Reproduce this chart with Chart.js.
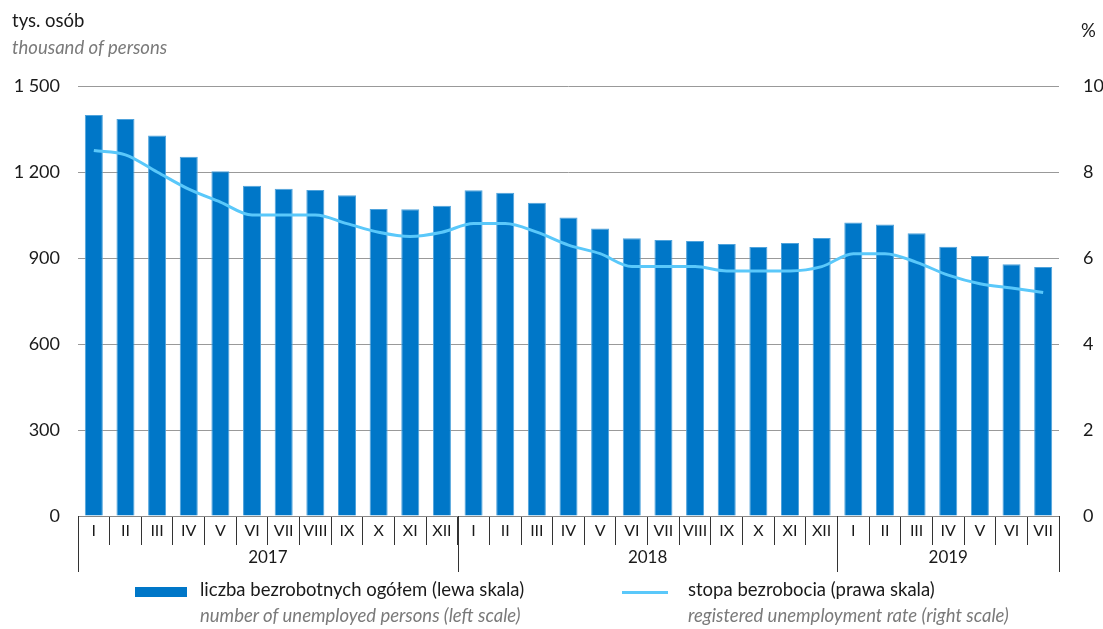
<!DOCTYPE html>
<html>
<head>
<meta charset="utf-8">
<script src="https://cdn.jsdelivr.net/npm/chart.js@4"></script>
<style>
  body { margin: 0; background: #fff; font-family: Lato, "Open Sans", sans-serif; }
  #wrap { position: relative; width: 1103px; height: 629px; }
  #c { position: absolute; left: 0; top: 0; }
  .txt { position: absolute; white-space: nowrap; font-size: 18.5px; color: #1a1a1a; }
  .en { font-style: italic; color: #7a7a7a; }
  .swatch { position: absolute; }
</style>
</head>
<body>
<div id="wrap">
  <canvas id="c" width="1103" height="629"></canvas>
  <div class="txt" style="left:12px; top:9px;">tys. osób</div>
  <div class="txt en" style="left:12px; top:36px;">thousand of persons</div>
  <div class="txt" style="left:1081px; top:19px;">%</div>

  <div class="swatch" style="left:135px; top:587px; width:52px; height:10px; background:#0077c8;"></div>
  <div class="txt" style="left:200px; top:578px;">liczba bezrobotnych ogółem (lewa skala)</div>
  <div class="txt en" style="left:200px; top:604px;">number of unemployed persons (left scale)</div>

  <div class="swatch" style="left:622px; top:591px; width:46px; height:3px; background:#5ac8fa;"></div>
  <div class="txt" style="left:688px; top:578px;">stopa bezrobocia (prawa skala)</div>
  <div class="txt en" style="left:688px; top:604px;">registered unemployment rate (right scale)</div>
</div>
<script>
  let months = [
    "I", "II", "III", "IV", "V", "VI", "VII", "VIII", "IX", "X", "XI", "XII",
    "I", "II", "III", "IV", "V", "VI", "VII", "VIII", "IX", "X", "XI", "XII",
    "I", "II", "III", "IV", "V", "VI", "VII"
  ]
  let years = ["2017", "2018", "2019"]
  let yearStart = [0, 12, 24, 31]

  // tys. osób
  let unemployed = [
    1399, 1385, 1327, 1253, 1203, 1152, 1142, 1137, 1119, 1071, 1070, 1082,
    1136, 1128, 1093, 1041, 1003, 969, 963, 959, 949, 938, 952, 970,
    1024, 1017, 986, 939, 907, 878, 869
  ]
  // %
  let rate = [
    8.5, 8.4, 8.0, 7.6, 7.3, 7.0, 7.0, 7.0, 6.8, 6.6, 6.5, 6.6,
    6.8, 6.8, 6.6, 6.3, 6.1, 5.8, 5.8, 5.8, 5.7, 5.7, 5.7, 5.8,
    6.1, 6.1, 5.9, 5.6, 5.4, 5.3, 5.2
  ]

  let leftTicks = [0, 300, 600, 900, 1200, 1500]
  let rightTicks = [0, 2, 4, 6, 8, 10]

  const font = "Lato, 'Open Sans', sans-serif"

  function formatThousands(v) {
    return String(v).replace(/\B(?=(\d{3})+(?!\d))/g, " ")
  }

  const yearAxisPlugin = {
    id: "yearAxis",
    afterDraw(chart) {
      const ctx = chart.ctx
      const x = chart.scales.x
      const bottom = chart.chartArea.bottom
      const half = (x.getPixelForValue(1) - x.getPixelForValue(0)) / 2
      ctx.save()
      ctx.strokeStyle = "#333"
      ctx.lineWidth = 1
      for (let i = 0; i < yearStart.length; i++) {
        const px = Math.round(x.getPixelForValue(yearStart[i]) - half) + 0.5
        ctx.beginPath()
        ctx.moveTo(px, bottom)
        ctx.lineTo(px, bottom + 56)
        ctx.stroke()
      }
      ctx.fillStyle = "#1a1a1a"
      ctx.font = "17px " + font
      ctx.textAlign = "center"
      ctx.textBaseline = "middle"
      for (let i = 0; i < years.length; i++) {
        const a = x.getPixelForValue(yearStart[i]) - half
        const b = x.getPixelForValue(yearStart[i + 1] - 1) + half
        ctx.fillText(years[i], (a + b) / 2, bottom + 42)
      }
      ctx.restore()
    }
  }

  new Chart(document.getElementById("c"), {
    data: {
      labels: months,
      datasets: [
        {
          type: "line",
          label: "stopa bezrobocia (prawa skala)",
          data: rate,
          yAxisID: "y1",
          borderColor: "#5ac8fa",
          borderWidth: 3,
          pointRadius: 0,
          cubicInterpolationMode: "monotone",
          order: 0
        },
        {
          type: "bar",
          label: "liczba bezrobotnych ogółem (lewa skala)",
          data: unemployed,
          yAxisID: "y",
          backgroundColor: "#0077c8",
          borderColor: "#4fa3dc",
          borderWidth: { top: 1, left: 1, right: 1, bottom: 0 },
          categoryPercentage: 1,
          barPercentage: 0.57,
          order: 1
        }
      ]
    },
    options: {
      responsive: false,
      animation: false,
      layout: { padding: { top: 86, bottom: 55, left: 0, right: 0 } },
      plugins: { legend: { display: false }, tooltip: { enabled: false } },
      scales: {
        x: {
          grid: { offset: true, drawOnChartArea: false, color: "#333", tickLength: 29 },
          border: { display: true, color: "#888" },
          ticks: {
            color: "#1a1a1a",
            font: { family: font, size: 16 },
            padding: -24,
            maxRotation: 0,
            autoSkip: false
          },
          afterFit(scale) { scale.height = 58 }
        },
        y: {
          position: "left",
          min: leftTicks[0],
          max: leftTicks[leftTicks.length - 1],
          ticks: {
            stepSize: leftTicks[1] - leftTicks[0],
            color: "#1a1a1a",
            font: { family: font, size: 18 },
            padding: 18,
            callback: v => formatThousands(v)
          },
          grid: { color: "#999", drawTicks: false },
          border: { display: false },
          afterFit(scale) { scale.width = 78 }
        },
        y1: {
          position: "right",
          min: rightTicks[0],
          max: rightTicks[rightTicks.length - 1],
          ticks: {
            stepSize: rightTicks[1] - rightTicks[0],
            color: "#1a1a1a",
            font: { family: font, size: 18 },
            padding: 24
          },
          grid: { drawOnChartArea: false, drawTicks: false },
          border: { display: false },
          afterFit(scale) { scale.width = 44 }
        }
      }
    },
    plugins: [yearAxisPlugin]
  })
</script>
</body>
</html>
